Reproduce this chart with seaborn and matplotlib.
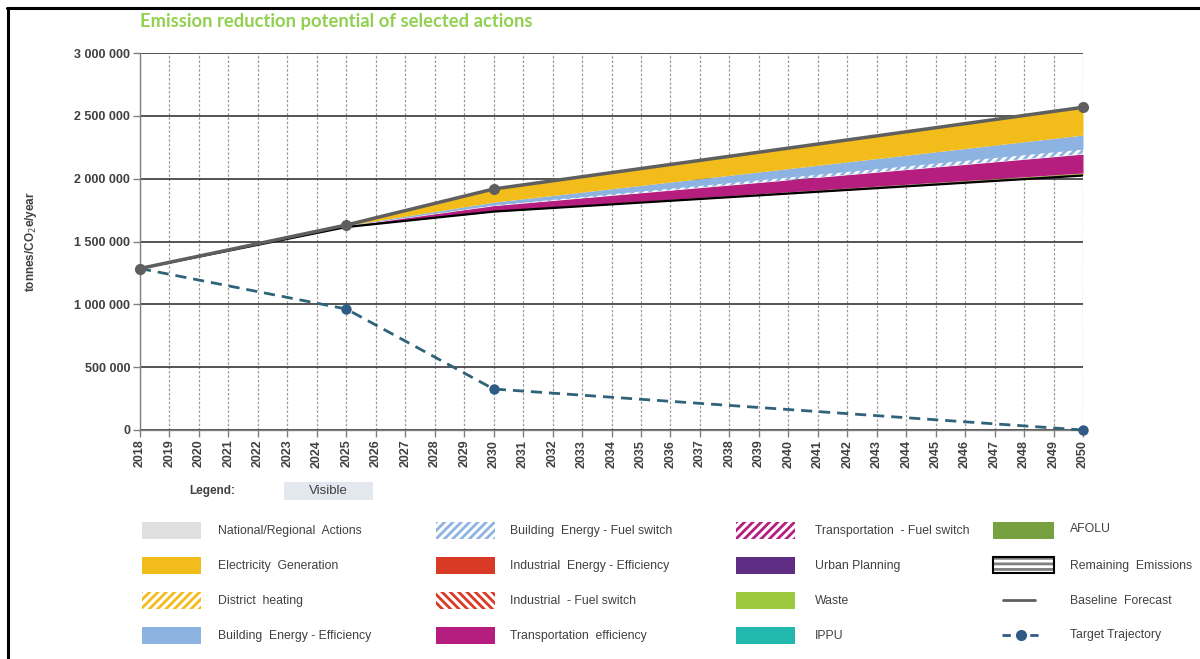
import numpy as np
import matplotlib.pyplot as plt
import seaborn as sns
from matplotlib.patches import Rectangle
from matplotlib.lines import Line2D

# milestone years
years = [2018, 2025, 2030, 2050]
baseline = [1285000, 1631000, 1918000, 2568000]
target = [1285000, 963000, 326000, 0]
remaining = [1285000, 1615000, 1738000, 2025000]

# reduction wedges (tonnes CO2e/year)
national = [0, 0, 0, 0]
electricity = [0, 4000, 105000, 221000]
district_heating = [0, 0, 0, 0]
building_eff = [0, 3000, 22000, 112000]
building_fuel = [0, 2000, 6000, 40000]
industrial_eff = [0, 0, 0, 0]
industrial_fuel = [0, 0, 0, 0]
transport_eff = [0, 4000, 40000, 150000]
transport_fuel = [0, 0, 0, 0]
urban_planning = [0, 0, 0, 0]
waste = [0, 2000, 5000, 16000]
ippu = [0, 0, 0, 0]
afolu = [0, 1000, 2000, 4000]

year_ticks = list(range(2018, 2051))
y_ticks = [0, 500000, 1000000, 1500000, 2000000, 2500000, 3000000]

sns.set_theme(style='white')
plt.rcParams['font.family'] = ['Liberation Sans', 'DejaVu Sans']
plt.rcParams['hatch.linewidth'] = 2.0

fig = plt.figure(figsize=(12, 6.59), dpi=100)
W, H = 1200, 659
ax = fig.add_axes([140 / W, 1 - 430 / H, (1083 - 140) / W, (430 - 53) / H])

# stacked from the bottom up (legend order reversed)
layers = [
    (afolu, '#77A040', None),
    (ippu, '#23B8AE', None),
    (waste, '#9BC83C', None),
    (urban_planning, '#5E2C82', None),
    (transport_fuel, '#B51D7E', '////'),
    (transport_eff, '#B51D7E', None),
    (industrial_fuel, '#D93A26', '\\\\\\\\'),
    (industrial_eff, '#D93A26', None),
    (building_fuel, '#8DB3E2', '////'),
    (building_eff, '#8DB3E2', None),
    (district_heating, '#F2BC1B', '////'),
    (electricity, '#F2BC1B', None),
    (national, '#E0E0E0', None),
]

bottom = np.array(remaining, dtype=float)
for vals, color, hatch in layers:
    top = bottom + np.array(vals, dtype=float)
    if hatch:
        ax.fill_between(years, bottom, top, facecolor='white', edgecolor=color,
                        hatch=hatch, linewidth=0, zorder=2)
    else:
        ax.fill_between(years, bottom, top, color=color, linewidth=0, zorder=2)
    bottom = top

sns.lineplot(x=years, y=remaining, color='black', lw=1.6, ax=ax, zorder=3)
sns.lineplot(x=years, y=target, color='#2E6378', lw=2, linestyle=(0, (4, 2.5)), marker='o',
             markersize=7.5, markerfacecolor='#2F5C85', markeredgewidth=0, ax=ax, zorder=4,
             clip_on=False)
sns.lineplot(x=years, y=baseline, color='#5F5F5F', lw=2.5, marker='o', markersize=8,
             markeredgewidth=0, ax=ax, zorder=5, clip_on=False)

ax.set_xlim(2018, 2050)
ax.set_ylim(0, 3000000)
ax.set_xticks(year_ticks)
ax.set_xticklabels([str(y) for y in year_ticks], rotation=90, fontweight='bold')
ax.set_yticks(y_ticks)
ax.set_yticklabels([f'{v:,.0f}'.replace(',', ' ') for v in y_ticks], fontweight='bold')
ax.tick_params(axis='both', direction='out', length=5, width=1, color='#808080',
               labelsize=9, labelcolor='#404040', bottom=True, left=True, pad=2)
ax.set_xlabel('')
ax.set_ylabel('')

ax.set_axisbelow(True)
ax.yaxis.grid(True, color='#262626', lw=1.1)
ax.xaxis.grid(True, color='#9A9A9A', lw=0.9, linestyle=(0, (2, 1.5)))
for s in ['top', 'right']:
    ax.spines[s].set_visible(False)
for s in ['left', 'bottom']:
    ax.spines[s].set_color('#808080')
    ax.spines[s].set_linewidth(1)

fig.text(140 / W, 1 - 22 / H, 'Emission reduction potential of selected actions',
         color='#92D050', fontweight='bold', fontsize=13.2, va='center',
         family=['Lato', 'DejaVu Sans'])
fig.text(31 / W, 1 - 242 / H, 'tonnes/CO$_2$e/year', rotation=90, ha='center', va='center',
         fontweight='bold', fontsize=8.5, color='#404040')

# legend block drawn in pixel coordinates
lax = fig.add_axes([0, 0, 1, 1])
lax.set_xlim(0, W)
lax.set_ylim(H, 0)
lax.axis('off')
lax.patch.set_alpha(0)

lax.text(212, 491, 'Legend:', ha='center', va='center', fontsize=8.5, fontweight='bold',
         color='#404040')
lax.add_patch(Rectangle((284, 482), 89, 18, facecolor='#E3E7EE', lw=0))
lax.text(328, 491, 'Visible', ha='center', va='center', fontsize=9.5, color='#404040')

legend_cols = [
    (142, 218, [('National/Regional  Actions', '#E0E0E0', None),
                ('Electricity  Generation', '#F2BC1B', None),
                ('District  heating', '#F2BC1B', '////'),
                ('Building  Energy - Efficiency', '#8DB3E2', None)]),
    (436, 510, [('Building  Energy - Fuel switch', '#8DB3E2', '////'),
                ('Industrial  Energy - Efficiency', '#D93A26', None),
                ('Industrial  - Fuel switch', '#D93A26', '\\\\\\\\'),
                ('Transportation  efficiency', '#B51D7E', None)]),
    (736, 815, [('Transportation  - Fuel switch', '#B51D7E', '////'),
                ('Urban Planning', '#5E2C82', None),
                ('Waste', '#9BC83C', None),
                ('IPPU', '#23B8AE', None)]),
]
row_y = [530, 565, 600, 635]

for px, tx, items in legend_cols:
    for (label, color, hatch), yc in zip(items, row_y):
        if hatch:
            lax.add_patch(Rectangle((px, yc - 8.5), 59, 17, facecolor='white', edgecolor=color,
                                    hatch=hatch, lw=0))
        else:
            lax.add_patch(Rectangle((px, yc - 8.5), 59, 17, facecolor=color, lw=0))
        lax.text(tx, yc + 1, label, va='center', fontsize=8.8, color='#404040')

# fourth column
lax.add_patch(Rectangle((993, 521.5), 61, 17, facecolor='#77A040', lw=0))
lax.text(1070, 529, 'AFOLU', va='center', fontsize=8.8, color='#404040')
lax.add_patch(Rectangle((993, 557), 61, 16, facecolor='white', edgecolor='#7F7F7F',
                        hatch='---', lw=0))
lax.add_patch(Rectangle((993, 557), 61, 16, facecolor='none', edgecolor='black', lw=1.5))
lax.text(1070, 566, 'Remaining  Emissions', va='center', fontsize=8.8, color='#404040')
lax.add_line(Line2D([1003, 1035], [600, 600], color='#5F5F5F', lw=2))
lax.text(1070, 601, 'Baseline  Forecast', va='center', fontsize=8.8, color='#404040')
lax.add_line(Line2D([1002, 1042], [635, 635], color='#2F5C85', lw=2, linestyle=(0, (3, 2))))
lax.add_line(Line2D([1021], [635], color='#2F5C85', marker='o', markersize=7, lw=0))
lax.text(1070, 635, 'Target Trajectory', va='center', fontsize=8.8, color='#404040')

# outer frame edges
lax.add_line(Line2D([7, W], [8, 8], color='black', lw=2.2))
lax.add_line(Line2D([8, 8], [8, H], color='black', lw=2.2))

fig.savefig('out.png', dpi=100)
